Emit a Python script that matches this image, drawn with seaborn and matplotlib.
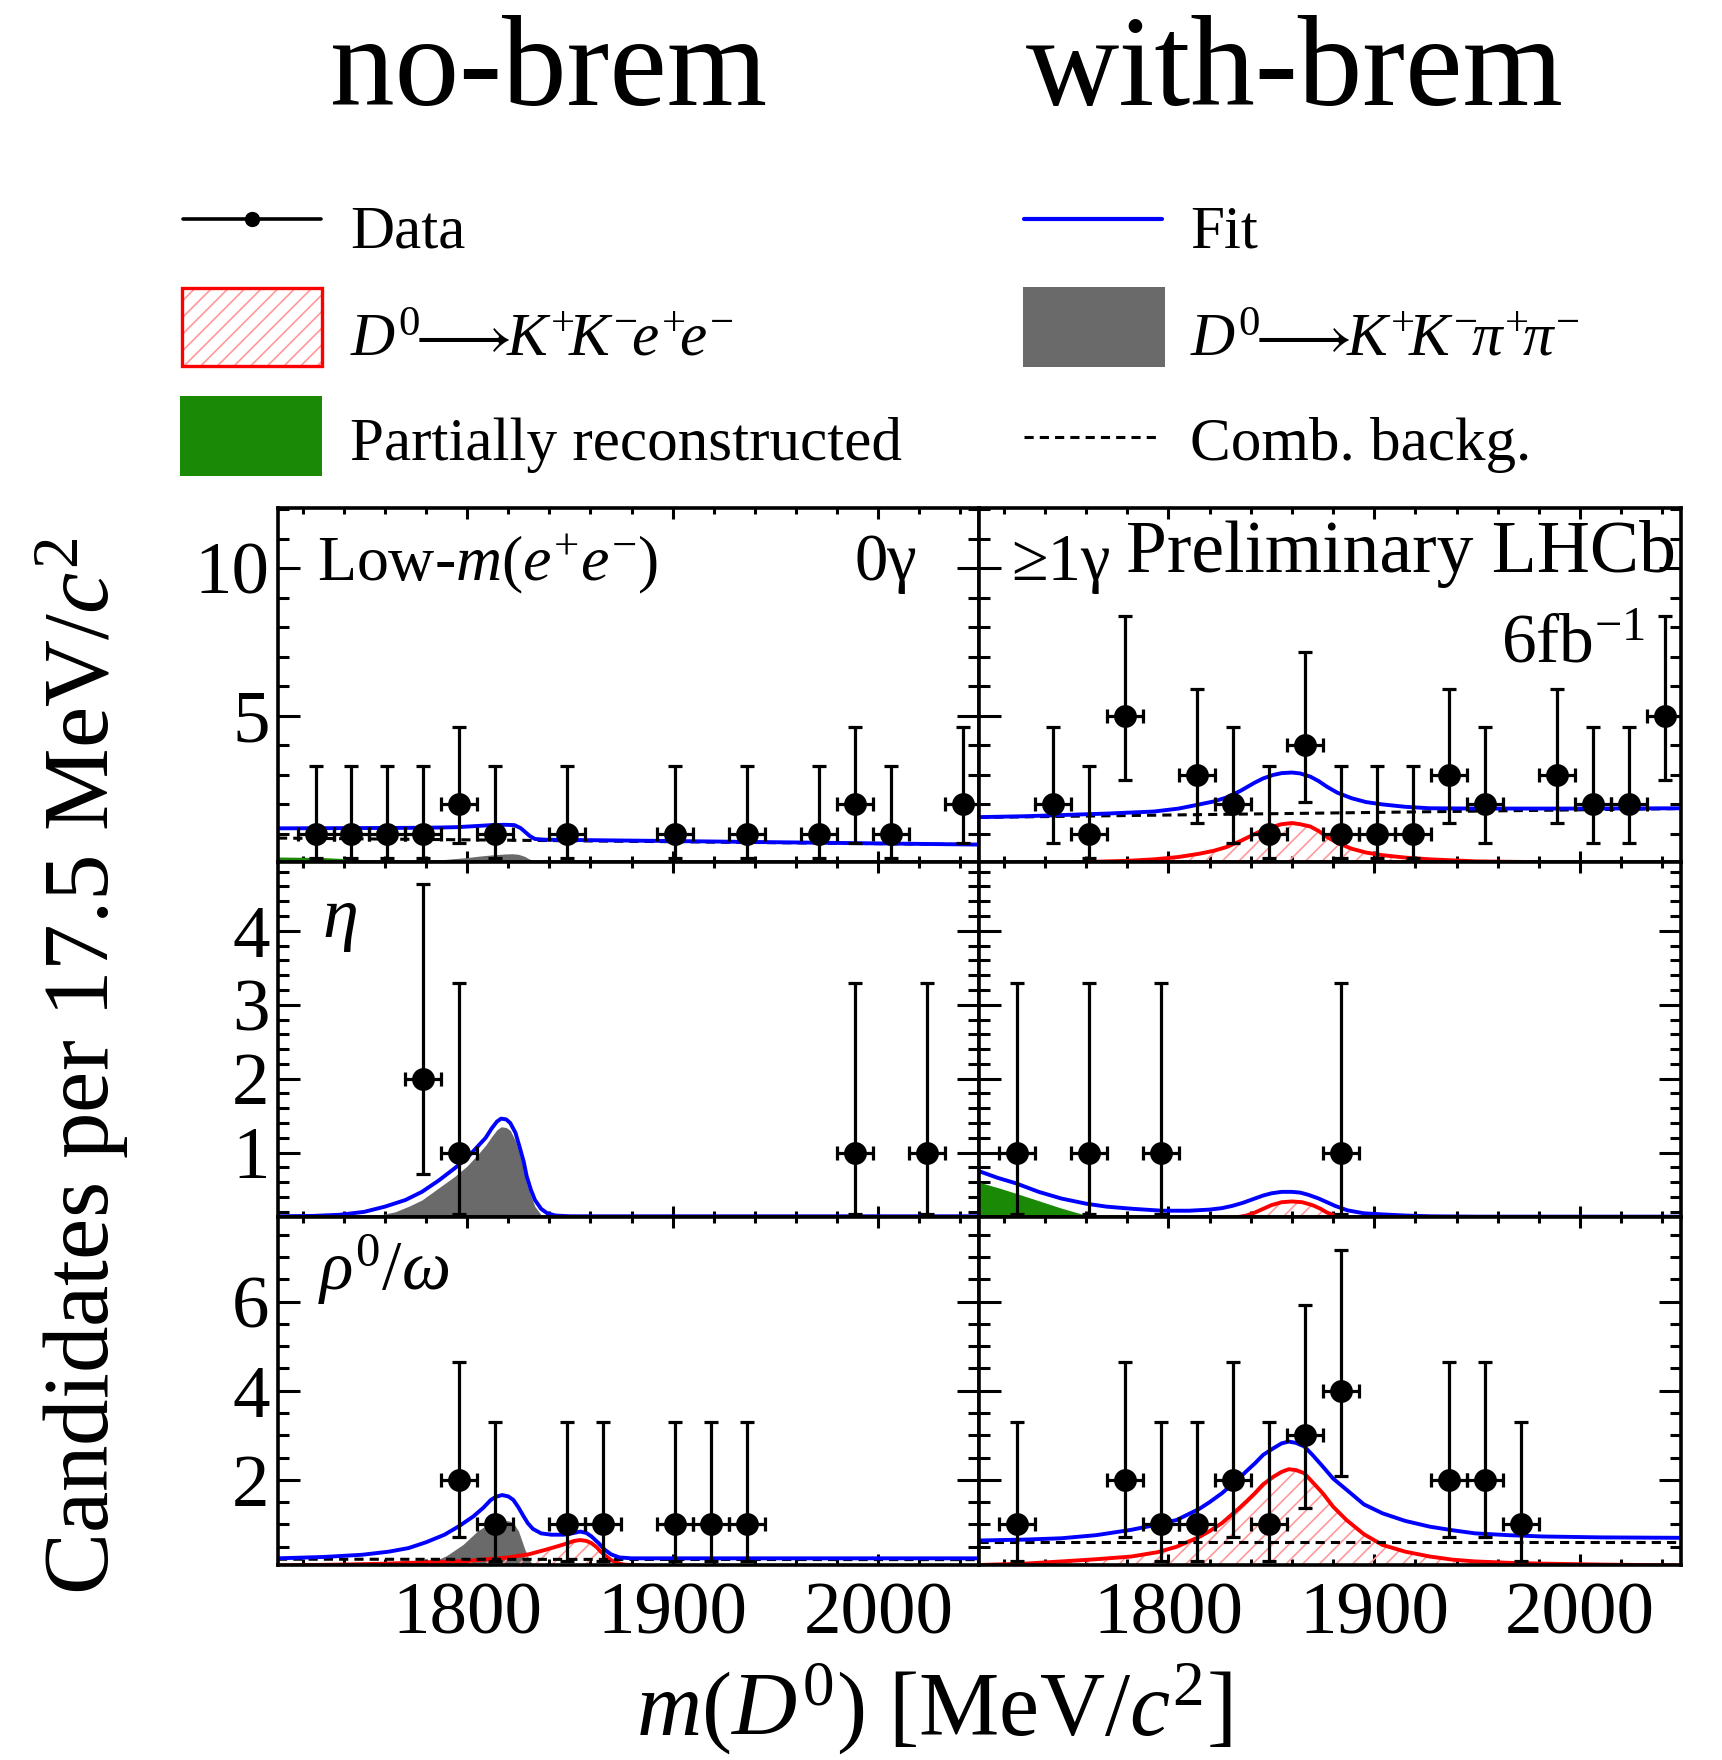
import numpy as np
import pandas as pd
import matplotlib
matplotlib.use("Agg")
import matplotlib.pyplot as plt
import seaborn as sns
from matplotlib.lines import Line2D
from matplotlib.patches import Rectangle
from matplotlib.ticker import MultipleLocator

# ------------------------------------------------------------------ data
HALF_BIN = 8.75
POIS_N = [1, 2, 3, 4, 5]
ERR_LO = [0.827, 1.292, 1.633, 1.914, 2.159]
ERR_HI = [2.300, 2.638, 2.918, 3.162, 3.382]

# Low-m(ee), no-brem (0 gamma)
TL_x = [1726.25, 1743.75, 1761.25, 1778.75, 1796.25, 1813.75, 1848.75, 1901.25,
        1936.25, 1971.25, 1988.75, 2006.25, 2041.25]
TL_y = [1, 1, 1, 1, 2, 1, 1, 1, 1, 1, 2, 1, 2]
TL_fit_x = [1708, 1750, 1780, 1795, 1805, 1812, 1818, 1823, 1826, 1828, 1830.5, 1833, 1838, 1845, 1900, 1950, 2000, 2049]
TL_fit_y = [1.19, 1.20, 1.21, 1.23, 1.27, 1.30, 1.31, 1.30, 1.20, 1.08, 0.93, 0.83, 0.805, 0.80, 0.76, 0.72, 0.68, 0.64]
TL_comb_x = [1708, 1880, 2049]
TL_comb_y = [0.86, 0.75, 0.64]
TL_kkpp_x = [1770, 1778, 1785, 1793, 1800, 1806, 1812, 1818, 1822, 1825, 1828, 1830, 1832, 1835]
TL_kkpp_y = [0.05, 0.08, 0.11, 0.16, 0.20, 0.25, 0.29, 0.32, 0.33, 0.31, 0.24, 0.16, 0.10, 0.05]
TL_prc_x = [1708, 1730, 1745, 1755, 1765]
TL_prc_y = [0.22, 0.20, 0.15, 0.09, 0.05]

# Low-m(ee), with-brem (>=1 gamma)
TR_x = [1743.75, 1761.25, 1778.75, 1813.75, 1831.25, 1848.75, 1866.25, 1883.75,
        1901.25, 1918.75, 1936.25, 1953.75, 1988.75, 2006.25, 2023.75, 2041.25]
TR_y = [2, 1, 5, 3, 2, 1, 4, 1, 1, 1, 3, 2, 3, 2, 2, 5]
TR_fit_x = [1708, 1730, 1748, 1770, 1793, 1805, 1815, 1822, 1828, 1835, 1842, 1846, 1851, 1855,
            1860, 1864, 1869, 1873, 1877, 1882, 1889, 1896, 1904, 1915, 1927, 1950, 2000, 2049]
TR_fit_y = [1.57, 1.60, 1.64, 1.69, 1.76, 1.86, 2.00, 2.10, 2.23, 2.46, 2.74, 2.88, 3.00, 3.06,
            3.08, 3.05, 2.94, 2.79, 2.60, 2.40, 2.21, 2.08, 2.00, 1.92, 1.87, 1.86, 1.86, 1.87]
TR_comb_x = [1708, 2049]
TR_comb_y = [1.56, 1.86]
TR_sig_x = [1708, 1740, 1760, 1780, 1793, 1805, 1815, 1822, 1828, 1835, 1842, 1846, 1851, 1855,
            1860, 1864, 1869, 1873, 1877, 1882, 1889, 1896, 1904, 1915, 1927, 1950, 2000, 2049]
TR_sig_y = [0.00, 0.03, 0.05, 0.09, 0.14, 0.22, 0.33, 0.43, 0.55, 0.76, 1.00, 1.13, 1.25, 1.33,
            1.37, 1.33, 1.25, 1.10, 0.90, 0.70, 0.50, 0.37, 0.28, 0.20, 0.14, 0.07, 0.03, 0.02]

# eta, no-brem
ML_x = [1778.75, 1796.25, 1988.75, 2023.75]
ML_y = [2, 1, 1, 1]
ML_fit_x = [1708, 1725, 1738, 1750, 1760, 1770, 1778, 1786, 1794, 1800, 1805, 1809, 1812, 1814.5,
            1816.5, 1819, 1821, 1823.5, 1825.5, 1827.5, 1829, 1831, 1833, 1836, 1839, 1843, 1850, 2049]
ML_fit_y = [0.14, 0.145, 0.16, 0.20, 0.27, 0.36, 0.47, 0.62, 0.79, 0.93, 1.08, 1.20, 1.33, 1.42,
            1.46, 1.45, 1.40, 1.27, 1.08, 0.88, 0.68, 0.50, 0.36, 0.24, 0.18, 0.15, 0.14, 0.14]
ML_kkpp_x = [1750, 1758, 1765, 1772, 1778, 1786, 1794, 1800, 1805, 1809, 1812, 1814.5, 1816.5,
             1819, 1821, 1823.5, 1825.5, 1827.5, 1829, 1831, 1833, 1836, 1838]
ML_kkpp_y = [0.13, 0.16, 0.20, 0.28, 0.36, 0.52, 0.68, 0.82, 0.97, 1.10, 1.22, 1.31, 1.35,
             1.34, 1.30, 1.16, 0.98, 0.78, 0.58, 0.42, 0.27, 0.16, 0.13]

# eta, with-brem
MR_x = [1726.25, 1761.25, 1796.25, 1883.75]
MR_y = [1, 1, 1, 1]
MR_fit_x = [1708, 1717, 1726, 1737, 1748, 1760, 1770, 1783, 1797, 1810, 1820, 1826, 1831, 1836,
            1842, 1846, 1850, 1855, 1860, 1864, 1868, 1873, 1877, 1881, 1887, 1895, 1904, 1915,
            1927, 1950, 2049]
MR_fit_y = [0.75, 0.66, 0.585, 0.47, 0.38, 0.31, 0.27, 0.24, 0.215, 0.215, 0.23, 0.25, 0.28, 0.32,
            0.38, 0.42, 0.45, 0.47, 0.47, 0.46, 0.43, 0.38, 0.33, 0.28, 0.22, 0.18, 0.165, 0.15,
            0.14, 0.135, 0.135]
MR_prc_x = [1708, 1718, 1726, 1737, 1748, 1758, 1766, 1775]
MR_prc_y = [0.60, 0.52, 0.45, 0.35, 0.25, 0.17, 0.13, 0.09]
MR_sig_x = [1825, 1832, 1838, 1842, 1846, 1850, 1855, 1860, 1865, 1870, 1874, 1877, 1881, 1886, 1895]
MR_sig_y = [0.10, 0.12, 0.15, 0.19, 0.24, 0.29, 0.33, 0.34, 0.33, 0.29, 0.24, 0.19, 0.15, 0.11, 0.08]

# rho/omega, no-brem
BL_x = [1796.25, 1813.75, 1848.75, 1866.25, 1901.25, 1918.75, 1936.25]
BL_y = [2, 1, 1, 1, 1, 1, 1]
BL_fit_x = [1708, 1730, 1749, 1762, 1771.5, 1780, 1789, 1796, 1803, 1808, 1811.5, 1814, 1817, 1820,
            1822.5, 1825, 1827.5, 1829.5, 1832, 1836, 1841, 1847, 1851, 1855, 1858, 1860.5, 1864,
            1867, 1870, 1874, 1880, 2049]
BL_fit_y = [0.24, 0.27, 0.32, 0.39, 0.47, 0.60, 0.77, 0.96, 1.18, 1.38, 1.55, 1.62, 1.66, 1.63,
            1.55, 1.38, 1.18, 1.03, 0.90, 0.80, 0.77, 0.77, 0.80, 0.84, 0.81, 0.73, 0.58,
            0.43, 0.33, 0.26, 0.24, 0.24]
BL_comb_x = [1708, 2049]
BL_comb_y = [0.22, 0.21]
BL_kkpp_x = [1778, 1785, 1790, 1798, 1805, 1810, 1814, 1818, 1821, 1823, 1825, 1826.5, 1828, 1830, 1832]
BL_kkpp_y = [0.09, 0.20, 0.30, 0.55, 0.85, 1.00, 1.08, 1.10, 1.07, 1.00, 0.85, 0.65, 0.45, 0.22, 0.10]
BL_sig_x = [1708, 1740, 1760, 1780, 1800, 1820, 1830, 1838, 1844, 1849, 1852, 1855, 1858, 1860.5,
            1863, 1865, 1867.5, 1870, 1873, 1876, 1890]
BL_sig_y = [0.08, 0.10, 0.12, 0.15, 0.18, 0.26, 0.33, 0.43, 0.51, 0.58, 0.63, 0.65, 0.63, 0.58,
            0.49, 0.39, 0.29, 0.20, 0.14, 0.10, 0.06]

# rho/omega, with-brem
BR_x = [1726.25, 1778.75, 1796.25, 1813.75, 1831.25, 1848.75, 1866.25, 1883.75, 1936.25, 1953.75, 1971.25]
BR_y = [1, 2, 1, 1, 2, 1, 3, 4, 2, 2, 1]
BR_fit_x = [1708, 1730, 1748, 1765, 1782, 1795, 1804, 1815, 1820, 1826, 1834, 1838, 1842, 1846,
            1851, 1855, 1858.5, 1862, 1866, 1870, 1875, 1880, 1886.5, 1895, 1904, 1915, 1927,
            1938, 1949, 1965, 1982, 2010, 2049]
BR_fit_y = [0.64, 0.66, 0.69, 0.76, 0.88, 1.00, 1.10, 1.35, 1.50, 1.70, 2.02, 2.20, 2.37, 2.56,
            2.71, 2.82, 2.86, 2.83, 2.75, 2.56, 2.30, 2.03, 1.78, 1.45, 1.25, 1.08, 0.95,
            0.87, 0.80, 0.76, 0.73, 0.71, 0.70]
BR_comb_x = [1708, 2049]
BR_comb_y = [0.60, 0.60]
BR_sig_x = [1708, 1730, 1748, 1765, 1782, 1795, 1804, 1815, 1820, 1826, 1834, 1838, 1842, 1846,
            1851, 1855, 1858.5, 1862, 1866, 1870, 1875, 1880, 1886.5, 1895, 1904, 1915, 1927,
            1938, 1949, 1965, 1982, 2010, 2049]
BR_sig_y = [0.09, 0.12, 0.17, 0.22, 0.28, 0.38, 0.50, 0.72, 0.85, 1.03, 1.35, 1.52, 1.70, 1.90,
            2.07, 2.18, 2.24, 2.22, 2.15, 1.95, 1.70, 1.40, 1.10, 0.78, 0.54, 0.39, 0.28,
            0.21, 0.17, 0.14, 0.12, 0.10, 0.08]

X_TICKS = [1800, 1900, 2000]
ROW_YLIM = [(0.05, 12.04), (0.13, 4.93), (0.09, 7.9)]
ROW_YMAJOR = [5, 1, 2]
ROW_YMINOR = [1, 0.2, 0.5]
XLIM = (1708, 2049)

# ------------------------------------------------------------------ style
sns.set_theme(style="ticks")
plt.rcParams.update({
    "font.family": ["Liberation Serif", "DejaVu Serif"],
    "mathtext.fontset": "custom",
    "mathtext.rm": "Liberation Serif",
    "mathtext.it": "Liberation Serif:italic",
    "mathtext.bf": "Liberation Serif:bold",
    "mathtext.fallback": "stix",
    "hatch.linewidth": 1.2,
    "axes.linewidth": 2.6,
    "axes.edgecolor": "black",
    "text.color": "black",
    "axes.labelcolor": "black",
    "xtick.color": "black",
    "ytick.color": "black",
    "xtick.labelcolor": "black",
    "ytick.labelcolor": "black",
})

BLUE = "#0000ff"
RED = "#ff0000"
HATCH_RED = "#ff9a9a"
GRAY = "#6a6a6a"
GREEN = "#1a8a06"

W, H = 1722, 1760
fig = plt.figure(figsize=(W / 100, H / 100), dpi=100)


def fx(x):
    return x / W


def fy(y):
    return 1 - y / H


COLS = [(278, 979), (979, 1681)]
ROWS = [(508, 862), (862, 1217), (1217, 1565)]


def make_ax(r, c):
    x0, x1 = COLS[c]
    y0, y1 = ROWS[r]
    ax = fig.add_axes([fx(x0), fy(y1), (x1 - x0) / W, (y1 - y0) / H])
    ax.set_xlim(*XLIM)
    ax.set_ylim(*ROW_YLIM[r])
    ax.xaxis.set_major_locator(MultipleLocator(100))
    ax.xaxis.set_minor_locator(MultipleLocator(20))
    ax.yaxis.set_major_locator(MultipleLocator(ROW_YMAJOR[r]))
    ax.yaxis.set_minor_locator(MultipleLocator(ROW_YMINOR[r]))
    ax.tick_params(which="both", direction="in", top=True, right=True,
                   bottom=True, left=True, width=2.2, color="black",
                   labelcolor="black", labelsize=54)
    ax.tick_params(axis="y", which="major", length=16, pad=6)
    ax.tick_params(axis="y", which="minor", length=8)
    ax.tick_params(axis="x", which="major", length=8, pad=12)
    ax.tick_params(axis="x", which="minor", length=4)
    ax.set_xlabel("")
    ax.set_ylabel("")
    if r != 2:
        ax.tick_params(labelbottom=False)
    else:
        ax.set_xticks(X_TICKS)
        ax.set_xticklabels([str(t) for t in X_TICKS])
    if c == 1:
        ax.tick_params(labelleft=False)
    for s in ax.spines.values():
        s.set_linewidth(2.6)
        s.set_zorder(7)
    return ax


def fill(ax, xs, ys, color):
    ax.fill_between(xs, 0, ys, color=color, linewidth=0, zorder=2)


def hatch(ax, xs, ys):
    ax.fill_between(xs, 0, ys, facecolor="none", edgecolor=HATCH_RED,
                    hatch="//", linewidth=0, zorder=2)


def line(ax, xs, ys, color, lw=2.8, ls="-", z=3):
    sns.lineplot(x=xs, y=ys, ax=ax, color=color, linewidth=lw, linestyle=ls,
                 estimator=None, legend=False, zorder=z)


def data(ax, xs, ys):
    lo = [ERR_LO[POIS_N.index(n)] for n in ys]
    hi = [ERR_HI[POIS_N.index(n)] for n in ys]
    ax.errorbar(xs, ys, yerr=[lo, hi], xerr=HALF_BIN, fmt="none",
                ecolor="black", elinewidth=2.3, capsize=5, capthick=2.3,
                zorder=5)
    sns.scatterplot(x=xs, y=ys, ax=ax, color="black", s=270, marker="o",
                    linewidth=0, zorder=6, legend=False)


DASH = (0, (3, 2))

# top-left
ax = make_ax(0, 0)
fill(ax, TL_prc_x, TL_prc_y, GREEN)
fill(ax, TL_kkpp_x, TL_kkpp_y, GRAY)
line(ax, TL_comb_x, TL_comb_y, "black", lw=2.2, ls=DASH)
line(ax, TL_fit_x, TL_fit_y, BLUE)
data(ax, TL_x, TL_y)

# top-right
ax = make_ax(0, 1)
hatch(ax, TR_sig_x, TR_sig_y)
line(ax, TR_sig_x, TR_sig_y, RED)
line(ax, TR_comb_x, TR_comb_y, "black", lw=2.2, ls=DASH)
line(ax, TR_fit_x, TR_fit_y, BLUE)
data(ax, TR_x, TR_y)

# middle-left
ax = make_ax(1, 0)
fill(ax, ML_kkpp_x, ML_kkpp_y, GRAY)
line(ax, ML_fit_x, ML_fit_y, BLUE)
data(ax, ML_x, ML_y)

# middle-right
ax = make_ax(1, 1)
fill(ax, MR_prc_x, MR_prc_y, GREEN)
hatch(ax, MR_sig_x, MR_sig_y)
line(ax, MR_sig_x, MR_sig_y, RED)
line(ax, MR_fit_x, MR_fit_y, BLUE)
data(ax, MR_x, MR_y)

# bottom-left
ax = make_ax(2, 0)
fill(ax, BL_kkpp_x, BL_kkpp_y, GRAY)
hatch(ax, BL_sig_x, BL_sig_y)
line(ax, BL_sig_x, BL_sig_y, RED)
line(ax, BL_comb_x, BL_comb_y, "black", lw=2.2, ls=DASH)
line(ax, BL_fit_x, BL_fit_y, BLUE)
data(ax, BL_x, BL_y)

# bottom-right
ax = make_ax(2, 1)
hatch(ax, BR_sig_x, BR_sig_y)
line(ax, BR_sig_x, BR_sig_y, RED)
line(ax, BR_comb_x, BR_comb_y, "black", lw=2.2, ls=DASH)
line(ax, BR_fit_x, BR_fit_y, BLUE)
data(ax, BR_x, BR_y)

# ------------------------------------------------------------------ texts
fig.text(fx(549), fy(105), "no-brem", ha="center", va="baseline", fontsize=93)
fig.text(fx(1295), fy(105), "with-brem", ha="center", va="baseline", fontsize=93)

fig.text(fx(317), fy(580), r"Low-$m$($e^{+}e^{-}$)", ha="left", va="baseline", fontsize=46)
fig.text(fx(917), fy(580), "0γ", ha="right", va="baseline", fontsize=48)
fig.text(fx(1011), fy(580), "≥1γ", ha="left", va="baseline", fontsize=48)
fig.text(fx(1676), fy(572), "Preliminary LHCb", ha="right", va="baseline", fontsize=53)
fig.text(fx(1645), fy(662), r"6fb$^{-1}$", ha="right", va="baseline", fontsize=50)
fig.text(fx(322), fy(937), r"$\eta$", ha="left", va="baseline", fontsize=52)
fig.text(fx(318), fy(1290), r"$\rho^{0}/\omega$", ha="left", va="baseline", fontsize=50)

fig.text(fx(82), fy(1066), r"Candidates per 17.5 MeV/$c^{2}$", rotation=90,
         ha="center", va="center", fontsize=67)
fig.text(fx(934), fy(1735), r"$m$($D^{0}$) [MeV/$c^{2}$]", ha="center",
         va="baseline", fontsize=65)

# ------------------------------------------------------------------ legend
LEG_FS = 44


def rect(x0, y0, x1, y1, **kw):
    fig.add_artist(Rectangle((fx(x0), fy(y1)), (x1 - x0) / W, (y1 - y0) / H,
                             transform=fig.transFigure, **kw))


fig.add_artist(Line2D([fx(183), fx(321)], [fy(219), fy(219)], color="black",
                      lw=2.6, transform=fig.transFigure))
fig.add_artist(Line2D([fx(252)], [fy(219)], color="black", marker="o",
                      markersize=10, lw=0, transform=fig.transFigure))
fig.text(fx(350), fy(247), "Data", ha="left", va="baseline", fontsize=LEG_FS)

rect(182, 288, 322, 366, facecolor="white", edgecolor=HATCH_RED, hatch="//", lw=0)
rect(182, 288, 322, 366, facecolor="none", edgecolor=RED, lw=2.4)
fig.text(fx(350), fy(355), r"$D^{0}\!\!\longrightarrow\!\!K^{+}\!K^{-}\!e^{+}\!e^{-}$",
         ha="left", va="baseline", fontsize=LEG_FS)

rect(180, 396, 322, 476, facecolor=GREEN, edgecolor="none", lw=0)
fig.text(fx(350), fy(460), "Partially reconstructed", ha="left",
         va="baseline", fontsize=LEG_FS)

fig.add_artist(Line2D([fx(1024), fx(1162)], [fy(219), fy(219)], color=BLUE,
                      lw=3.0, transform=fig.transFigure))
fig.text(fx(1190), fy(247), "Fit", ha="left", va="baseline", fontsize=LEG_FS)

rect(1023, 287, 1165, 367, facecolor=GRAY, edgecolor="none", lw=0)
fig.text(fx(1190), fy(355), r"$D^{0}\!\!\longrightarrow\!\!K^{+}\!K^{-}\!\pi^{+}\!\pi^{-}$",
         ha="left", va="baseline", fontsize=LEG_FS)

fig.add_artist(Line2D([fx(1024), fx(1160)], [fy(437), fy(437)], color="black",
                      lw=2.2, linestyle=DASH, transform=fig.transFigure))
fig.text(fx(1190), fy(460), "Comb. backg.", ha="left", va="baseline",
         fontsize=LEG_FS)

fig.savefig("out.png", dpi=100)
